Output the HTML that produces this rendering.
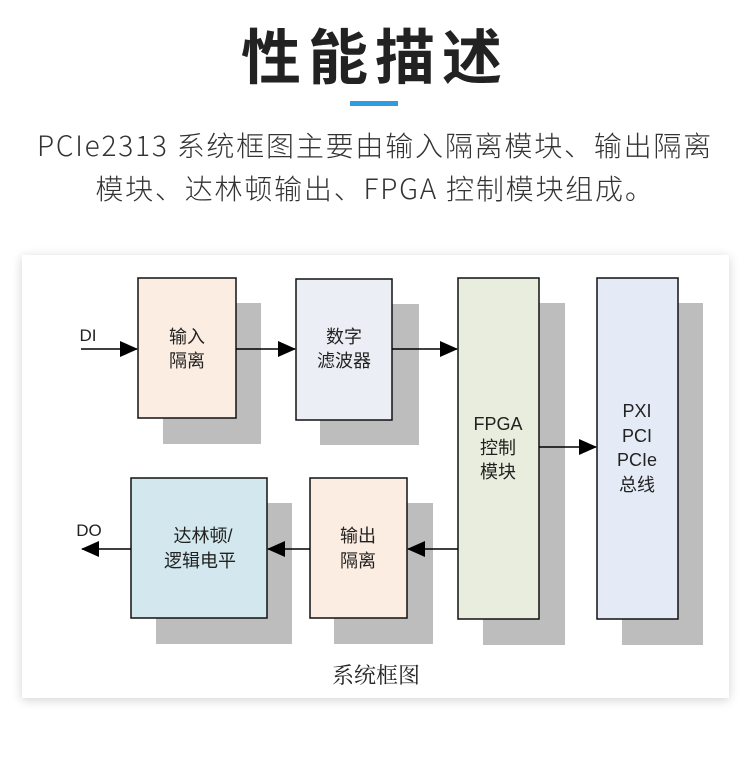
<!DOCTYPE html>
<html><head><meta charset="utf-8"><style>
body{margin:0;width:750px;height:758px;background:#fff;font-family:"Liberation Sans","Noto Sans CJK SC",sans-serif;position:relative;overflow:hidden}
.t{position:absolute;left:0;width:750px;text-align:center;color:#222}
</style></head><body>
<div class="t" style="top:14px;font-size:60px;font-weight:bold;letter-spacing:7px;line-height:80px;font-family:'Noto Sans CJK SC',sans-serif">性能描述</div>
<div style="position:absolute;left:350px;top:101px;width:48px;height:5px;background:#2f9be0"></div>
<div class="t" style="top:124px;font-size:28px;letter-spacing:1.8px;line-height:43px;color:#333;font-family:'Noto Sans CJK SC',sans-serif;font-weight:300">PCIe2313 系统框图主要由输入隔离模块、输出隔离<br>模块、达林顿输出、FPGA 控制模块组成。</div>
<div style="position:absolute;left:22px;top:255px;width:707px;height:443px;background:#fff;box-shadow:0 2px 10px rgba(0,0,0,0.18)"></div>
<svg style="position:absolute;left:0;top:0" width="750" height="758" font-family="'Liberation Sans','Noto Sans CJK SC',sans-serif" font-size="18" text-anchor="middle" fill="#222">
<defs><marker id="a" markerWidth="18" markerHeight="16" refX="17" refY="8" orient="auto" markerUnits="userSpaceOnUse"><path d="M0,0L18,8L0,16z" fill="#000"/></marker></defs>
<g fill="#bdbdbd">
<rect x="163" y="303" width="98" height="141"/><rect x="320" y="304" width="99" height="141"/>
<rect x="483" y="303" width="82" height="342"/><rect x="622" y="303" width="81" height="342"/>
<rect x="156" y="503" width="136" height="141"/><rect x="334" y="503" width="99" height="141"/>
</g>
<g stroke="#111" stroke-width="1.5">
<rect x="138" y="278" width="98" height="140" fill="#fcede2"/>
<rect x="296" y="279" width="96" height="141" fill="#ebeef4"/>
<rect x="458" y="278" width="81" height="341" fill="#e9eddd"/>
<rect x="597" y="278" width="81" height="341" fill="#e5ebf6"/>
<rect x="131" y="478" width="136" height="140" fill="#d3e8ee"/>
<rect x="310" y="478" width="97" height="140" fill="#fcede2"/>
</g>
<g stroke="#000" stroke-width="1.6" fill="none">
<line x1="81" y1="349" x2="137" y2="349" marker-end="url(#a)"/>
<line x1="236" y1="349" x2="295" y2="349" marker-end="url(#a)"/>
<line x1="392" y1="349" x2="457" y2="349" marker-end="url(#a)"/>
<line x1="539" y1="447" x2="596" y2="447" marker-end="url(#a)"/>
<line x1="458" y1="549" x2="408" y2="549" marker-end="url(#a)"/>
<line x1="310" y1="549" x2="268" y2="549" marker-end="url(#a)"/>
<line x1="131" y1="549" x2="82" y2="549" marker-end="url(#a)"/>
</g>
<text x="88" y="341" font-size="17">DI</text>
<text x="89" y="536" font-size="17">DO</text>
<text x="187" y="343">输入</text><text x="187" y="367">隔离</text>
<text x="344" y="343">数字</text><text x="344" y="367">滤波器</text>
<text x="498" y="430">FPGA</text><text x="498" y="454">控制</text><text x="498" y="478">模块</text>
<text x="637" y="417">PXI</text><text x="637" y="442">PCI</text><text x="637" y="466">PCIe</text><text x="637" y="491">总线</text>
<text x="203" y="542">达林顿/</text><text x="200" y="567">逻辑电平</text>
<text x="358" y="542">输出</text><text x="358" y="567">隔离</text>
<text x="376" y="683" font-size="22" font-family="'Noto Serif CJK SC',serif">系统框图</text>
</svg>
</body></html>
